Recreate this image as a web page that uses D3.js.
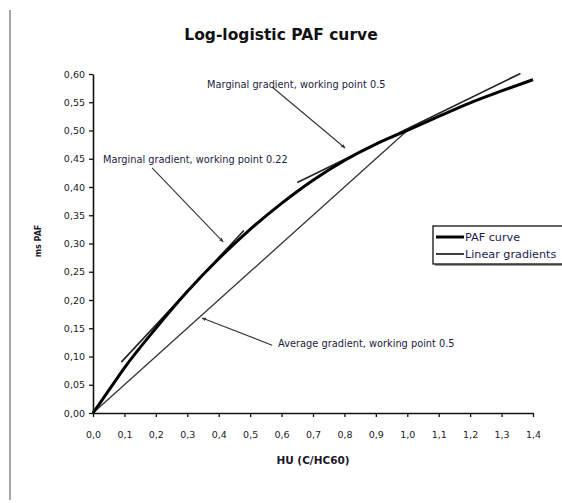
<!DOCTYPE html>
<html><head><meta charset="utf-8">
<script src="https://cdn.jsdelivr.net/npm/d3@7"></script>
<style>
body{margin:0;background:#fff;}
svg{display:block;font-family:"DejaVu Sans",sans-serif;}
</style></head>
<body><svg id="c" width="562" height="503"></svg>
<script>
// ---- data ----
const curveX = [0, 0.05, 0.1, 0.2, 0.3, 0.4, 0.5, 0.6, 0.7, 0.8, 0.9, 1.0, 1.1, 1.2, 1.3, 1.4];
const curveY = [0, 0.04, 0.08, 0.15, 0.215, 0.273, 0.325, 0.371, 0.412, 0.447, 0.476, 0.5, 0.525, 0.549, 0.57, 0.59];
const marginal022 = [[0.09, 0.09], [0.48, 0.323]];
const marginal05 = [[0.65, 0.408], [1.36, 0.601]];
const averageGrad = [[0, 0], [1.0, 0.5]];
const xTicks = [0,0.1,0.2,0.3,0.4,0.5,0.6,0.7,0.8,0.9,1.0,1.1,1.2,1.3,1.4];
const yTicks = [0,0.05,0.1,0.15,0.2,0.25,0.3,0.35,0.4,0.45,0.5,0.55,0.6];
const annoText = ["Marginal gradient, working point 0.22", "Marginal gradient, working point 0.5", "Average gradient, working point 0.5"];
const annoLabelPos = [[0.032, 0.443], [0.363, 0.575], [0.589, 0.117]];
const annoLeader = [[[0.188,0.434],[0.414,0.303]], [[0.570,0.577],[0.802,0.469]], [[0.570,0.120],[0.347,0.168]]];
const legendLabels = ["PAF curve", "Linear gradients"];
const title = "Log-logistic PAF curve";
const xTitle = "HU (C/HC60)";
const yTitle = "ms PAF";

// ---- chart ----
const svg = d3.select("#c");
const x = d3.scaleLinear().domain([0, 1.4]).range([93, 533]);
const y = d3.scaleLinear().domain([0, 0.6]).range([413, 74]);
const fmt = d => d3.format(".1f")(d).replace(".", ",");
const fmtY = d => d3.format(".2f")(d).replace(".", ",");

// page border line on the left
svg.append("line").attr("x1",10).attr("x2",10).attr("y1",10).attr("y2",500)
  .attr("stroke","#8a8a8a").attr("stroke-width",1.5);

svg.append("text").attr("x",281).attr("y",40).attr("text-anchor","middle")
  .attr("font-weight","bold").attr("font-size",15.5).attr("fill","#111").text(title);

const xAxis = svg.append("g").attr("transform","translate(0,413)")
  .call(d3.axisBottom(x).tickValues(xTicks).tickFormat(fmt).tickSize(4).tickSizeOuter(0));
const yAxis = svg.append("g").attr("transform","translate(93,0)")
  .call(d3.axisLeft(y).tickValues(yTicks).tickFormat(fmtY).tickSize(4).tickSizeOuter(0));
[xAxis, yAxis].forEach(a => {
  a.select(".domain").attr("stroke","#111").attr("stroke-width",1.6);
  a.selectAll(".tick line").attr("stroke","#111").attr("stroke-width",1.3);
  a.selectAll(".tick text").attr("fill","#1a1a2a").attr("font-size",9.5)
    .attr("font-family","DejaVu Sans, sans-serif");
});
xAxis.selectAll(".tick text").attr("dy","1.9em");
yAxis.selectAll(".tick text").attr("x",-8);

svg.append("text").attr("x",313).attr("y",464).attr("text-anchor","middle")
  .attr("font-weight","bold").attr("font-size",10.5).attr("fill","#1a1a2a").text(xTitle);
svg.append("text").attr("transform","translate(41,241) rotate(-90)").attr("text-anchor","middle")
  .attr("font-weight","bold").attr("font-size",8).attr("fill","#1a1a2a").text(yTitle);

const line = d3.line().x(d => x(d[0])).y(d => y(d[1]));
// gradients
[averageGrad, marginal022, marginal05].forEach((g,i) => {
  svg.append("path").attr("d", line(g)).attr("fill","none")
    .attr("stroke", i === 0 ? "#333" : "#222").attr("stroke-width", i === 0 ? 1.3 : 1.6);
});
// PAF curve
const pts = curveX.map((v,i) => [v, curveY[i]]);
svg.append("path").attr("d", d3.line().x(d=>x(d[0])).y(d=>y(d[1])).curve(d3.curveMonotoneX)(pts))
  .attr("fill","none").attr("stroke","#000").attr("stroke-width",3);

// annotations
svg.append("defs").append("marker").attr("id","arr").attr("viewBox","0 0 10 10")
  .attr("refX",9).attr("refY",5).attr("markerWidth",4).attr("markerHeight",4).attr("orient","auto")
  .append("path").attr("d","M0,1 L10,5 L0,9 z").attr("fill","#333");
annoText.forEach((t,i) => {
  svg.append("text").attr("x", x(annoLabelPos[i][0])).attr("y", y(annoLabelPos[i][1]))
    .attr("font-size",9.8).attr("fill","#1c1c40").text(t);
  const L = annoLeader[i];
  svg.append("line").attr("x1",x(L[0][0])).attr("y1",y(L[0][1])).attr("x2",x(L[1][0])).attr("y2",y(L[1][1]))
    .attr("stroke","#333").attr("stroke-width",1.1).attr("marker-end","url(#arr)");
});

// legend
const lg = svg.append("g");
lg.append("rect").attr("x",435).attr("y",228).attr("width",140).attr("height",38).attr("fill","#999");
lg.append("rect").attr("x",433).attr("y",226).attr("width",140).attr("height",38)
  .attr("fill","#fff").attr("stroke","#111").attr("stroke-width",1.3);
legendLabels.forEach((t,i) => {
  const yy = 237 + i*17;
  lg.append("line").attr("x1",436).attr("x2",464).attr("y1",yy).attr("y2",yy)
    .attr("stroke","#000").attr("stroke-width", i === 0 ? 3 : 1.5);
  lg.append("text").attr("x",465).attr("y",yy+4).attr("font-size",11.2).attr("fill","#1c1c50").text(t);
});
</script></body></html>
